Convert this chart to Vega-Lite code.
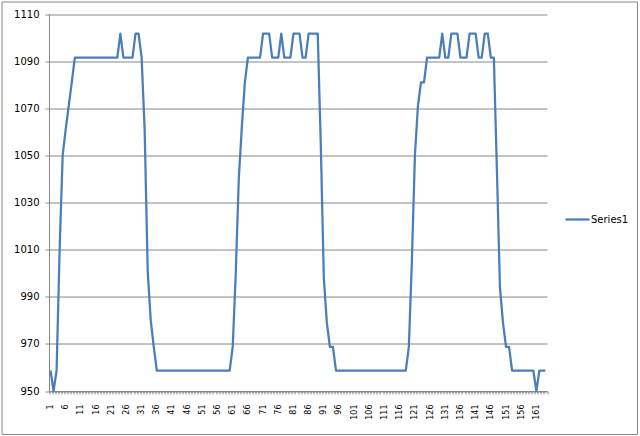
{
  "$schema": "https://vega.github.io/schema/vega-lite/v6.json",
  "width": 635.5,
  "height": 432.5,
  "autosize": {"type": "none"},
  "padding": {"left": 1.5, "top": 1.5, "right": 3, "bottom": 2},
  "background": "white",
  "data": {"values": [
    {"x":1,"y":958.7},{"x":2,"y":950},{"x":3,"y":958.7},{"x":4,"y":1010},{"x":5,"y":1050},{"x":6,"y":1061},{"x":7,"y":1071},{"x":8,"y":1081},
    {"x":9,"y":1091.5},{"x":10,"y":1091.5},{"x":11,"y":1091.5},{"x":12,"y":1091.5},{"x":13,"y":1091.5},{"x":14,"y":1091.5},{"x":15,"y":1091.5},{"x":16,"y":1091.5},
    {"x":17,"y":1091.5},{"x":18,"y":1091.5},{"x":19,"y":1091.5},{"x":20,"y":1091.5},{"x":21,"y":1091.5},{"x":22,"y":1091.5},{"x":23,"y":1091.5},
    {"x":24,"y":1101.7},{"x":25,"y":1091.5},{"x":26,"y":1091.5},{"x":27,"y":1091.5},{"x":28,"y":1091.5},{"x":29,"y":1101.7},{"x":30,"y":1101.7},
    {"x":31,"y":1091.5},{"x":32,"y":1061},{"x":33,"y":1001},{"x":34,"y":980},{"x":35,"y":968.7},
    {"x":36,"y":958.7},{"x":37,"y":958.7},{"x":38,"y":958.7},{"x":39,"y":958.7},{"x":40,"y":958.7},{"x":41,"y":958.7},{"x":42,"y":958.7},{"x":43,"y":958.7},
    {"x":44,"y":958.7},{"x":45,"y":958.7},{"x":46,"y":958.7},{"x":47,"y":958.7},{"x":48,"y":958.7},{"x":49,"y":958.7},{"x":50,"y":958.7},{"x":51,"y":958.7},
    {"x":52,"y":958.7},{"x":53,"y":958.7},{"x":54,"y":958.7},{"x":55,"y":958.7},{"x":56,"y":958.7},{"x":57,"y":958.7},{"x":58,"y":958.7},{"x":59,"y":958.7},{"x":60,"y":958.7},
    {"x":61,"y":968.7},{"x":62,"y":1000},{"x":63,"y":1040},{"x":64,"y":1062},{"x":65,"y":1081},
    {"x":66,"y":1091.5},{"x":67,"y":1091.5},{"x":68,"y":1091.5},{"x":69,"y":1091.5},{"x":70,"y":1091.5},
    {"x":71,"y":1101.7},{"x":72,"y":1101.7},{"x":73,"y":1101.7},{"x":74,"y":1091.5},{"x":75,"y":1091.5},{"x":76,"y":1091.5},{"x":77,"y":1101.7},
    {"x":78,"y":1091.5},{"x":79,"y":1091.5},{"x":80,"y":1091.5},{"x":81,"y":1101.7},{"x":82,"y":1101.7},{"x":83,"y":1101.7},{"x":84,"y":1091.5},{"x":85,"y":1091.5},
    {"x":86,"y":1101.7},{"x":87,"y":1101.7},{"x":88,"y":1101.7},{"x":89,"y":1101.7},
    {"x":90,"y":1055},{"x":91,"y":998},{"x":92,"y":979},{"x":93,"y":968.7},{"x":94,"y":968.7},
    {"x":95,"y":958.7},{"x":96,"y":958.7},{"x":97,"y":958.7},{"x":98,"y":958.7},{"x":99,"y":958.7},{"x":100,"y":958.7},{"x":101,"y":958.7},{"x":102,"y":958.7},
    {"x":103,"y":958.7},{"x":104,"y":958.7},{"x":105,"y":958.7},{"x":106,"y":958.7},{"x":107,"y":958.7},{"x":108,"y":958.7},{"x":109,"y":958.7},{"x":110,"y":958.7},
    {"x":111,"y":958.7},{"x":112,"y":958.7},{"x":113,"y":958.7},{"x":114,"y":958.7},{"x":115,"y":958.7},{"x":116,"y":958.7},{"x":117,"y":958.7},{"x":118,"y":958.7},
    {"x":119,"y":968.7},{"x":120,"y":1005},{"x":121,"y":1050},{"x":122,"y":1071},{"x":123,"y":1081},{"x":124,"y":1081},
    {"x":125,"y":1091.5},{"x":126,"y":1091.5},{"x":127,"y":1091.5},{"x":128,"y":1091.5},{"x":129,"y":1091.5},{"x":130,"y":1101.7},{"x":131,"y":1091.5},{"x":132,"y":1091.5},
    {"x":133,"y":1101.7},{"x":134,"y":1101.7},{"x":135,"y":1101.7},{"x":136,"y":1091.5},{"x":137,"y":1091.5},{"x":138,"y":1091.5},{"x":139,"y":1101.7},{"x":140,"y":1101.7},
    {"x":141,"y":1101.7},{"x":142,"y":1091.5},{"x":143,"y":1091.5},{"x":144,"y":1101.7},{"x":145,"y":1101.7},{"x":146,"y":1091.5},{"x":147,"y":1091.5},
    {"x":148,"y":1044},{"x":149,"y":994},{"x":150,"y":979},{"x":151,"y":968.7},{"x":152,"y":968.7},
    {"x":153,"y":958.7},{"x":154,"y":958.7},{"x":155,"y":958.7},{"x":156,"y":958.7},{"x":157,"y":958.7},{"x":158,"y":958.7},{"x":159,"y":958.7},{"x":160,"y":958.7},
    {"x":161,"y":950},{"x":162,"y":958.7},{"x":163,"y":958.7},{"x":164,"y":958.7}
  ]},
  "mark": {"type": "line", "strokeWidth": 2.25, "strokeJoin": "round"},
  "encoding": {
    "x": {
      "field": "x", "type": "ordinal",
      "scale": {"type": "band", "paddingInner": 0, "paddingOuter": 0, "range": [47.5, 545.5]},
      "bandPosition": 0.5,
      "axis": {
        "title": null, "tickBand": "extent", "labelAngle": 270, "offset": -43,
        "labelExpr": "(datum.value - 1) % 5 == 0 ? datum.label : ''",
        "labelOverlap": false, "labelFont": "DejaVu Sans", "labelFontSize": 8,
        "labelColor": "#000000", "labelPadding": 10, "tickSize": 3,
        "tickColor": "#868686", "domainColor": "#868686", "grid": false
      }
    },
    "y": {
      "field": "y", "type": "quantitative",
      "scale": {"domain": [950, 1110], "nice": false, "zero": false, "range": [389.5, 12.5]},
      "axis": {
        "title": null, "values": [950, 970, 990, 1010, 1030, 1050, 1070, 1090, 1110],
        "format": "d", "offset": -47.5,
        "tickSize": 4, "tickColor": "#868686", "domainColor": "#868686",
        "gridColor": "#868686", "labelFont": "DejaVu Sans", "labelFontSize": 10,
        "labelColor": "#000000", "labelPadding": 6
      }
    },
    "color": {
      "datum": "Series1",
      "scale": {"range": ["#4A7EBB"]},
      "legend": {
        "orient": "none", "legendX": 562.5, "legendY": 204.5, "title": null,
        "symbolType": "stroke", "symbolSize": 576, "symbolStrokeWidth": 2.25,
        "labelFont": "DejaVu Sans", "labelFontSize": 10, "labelColor": "#000000", "labelOffset": 0
      }
    }
  },
  "config": {"view": {"stroke": "#868686", "strokeWidth": 1}}
}
